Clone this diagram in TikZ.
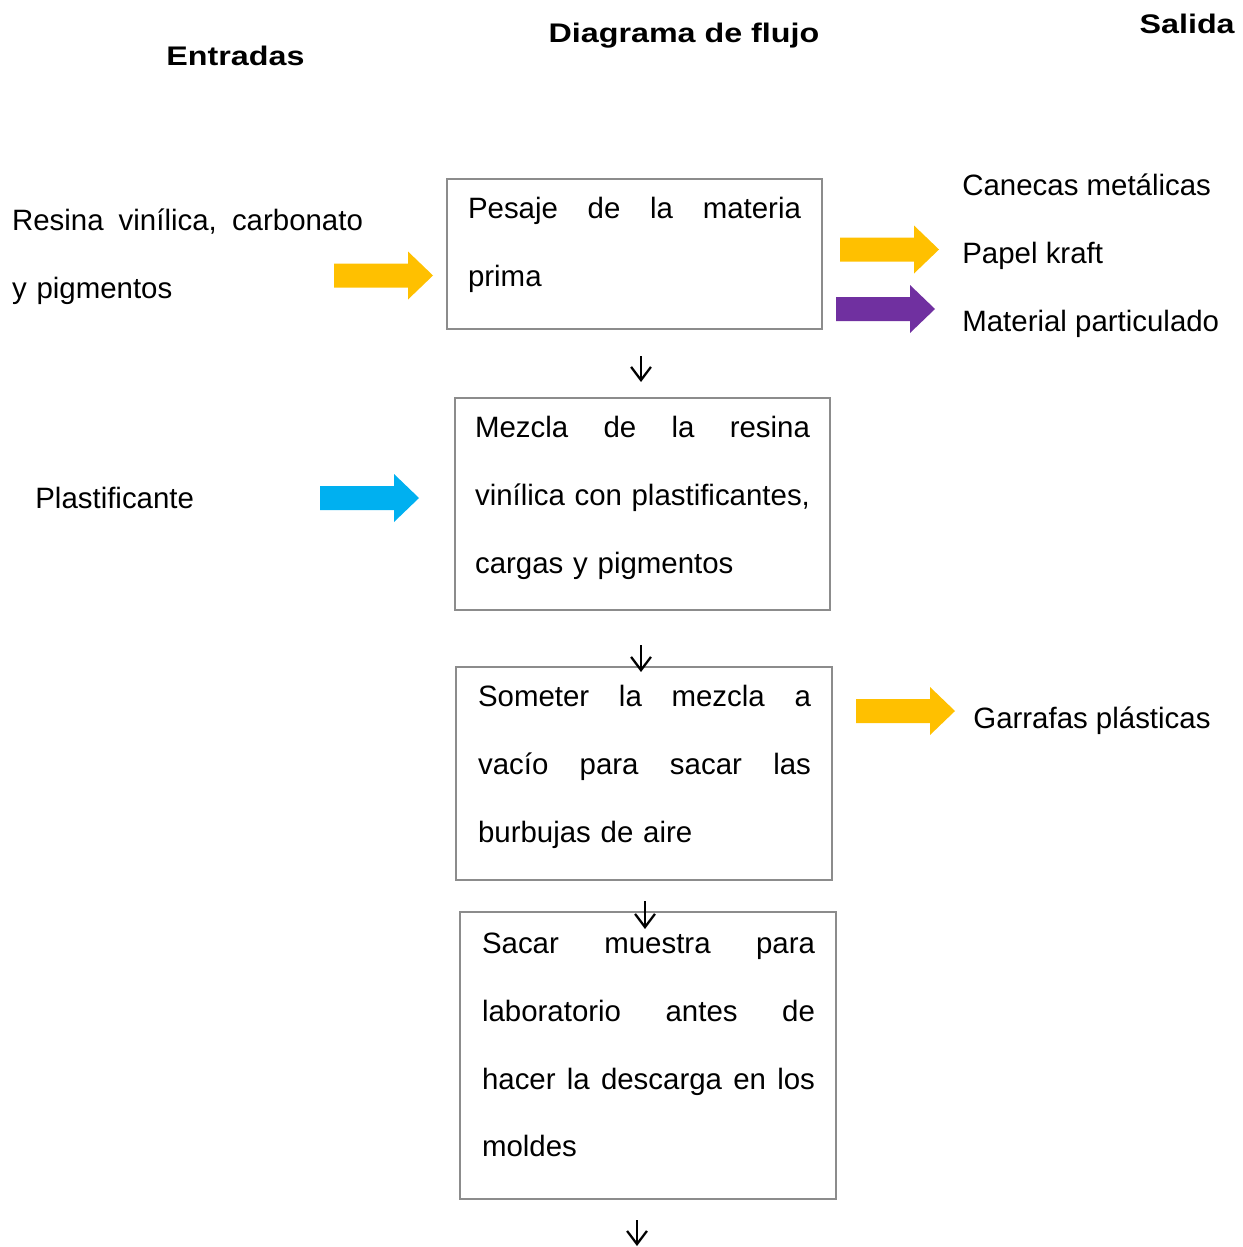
\documentclass[tikz,border=0pt]{standalone}
\usepackage{fontspec}
\usepackage{graphicx}
\setmainfont{Liberation Sans}
\usetikzlibrary{arrows.meta,calc}
\definecolor{amarillo}{HTML}{FFC000}
\definecolor{morado}{HTML}{7030A0}
\definecolor{celeste}{HTML}{00B0F0}
\definecolor{borde}{HTML}{8C8C8C}
\newcommand{\ancho}[1]{\scalebox{1.2}[1]{#1}}

\begin{document}
\begin{tikzpicture}[x = 0.02cm, y = -0.02cm,
    proceso/.style = {draw = borde, line width = 1.1pt, minimum width = 7.5cm, inner sep = 0pt},
    texto/.style = {inner sep = 0pt, font = \fontsize{16.75}{38.6}\selectfont},
    bloque/.style = {texto, text width = 6.66cm, align = left},
    titulo/.style = {inner sep = 0pt, font = \fontsize{15.3}{18}\selectfont\bfseries},
    flecha/.style = {line width = 1.3pt, -{Straight Barb[length = 7.5pt, width = 11.3pt]}},
    gruesa/.pic = {\fill (0,-12) -- (74,-12) -- (74,-24) -- (99,0) -- (74,24) -- (74,12) -- (0,12) -- cycle;}]
    \useasboundingbox (0,0) rectangle (1243,1247);

    % titulos
    \node[titulo] (entradas) at (235.5,56) {\ancho{Entradas}};
    \node[titulo] (diagrama) at (684,36) {\ancho{Diagrama de flujo}};
    \node[titulo, anchor = east] (salida) at (1235,24) {\ancho{Salida}};

    % cajas del proceso
    \node[proceso, minimum height = 3cm] (pesaje) at (634.5,254) {};
    \node[proceso, minimum height = 4.24cm] (mezcla) at (642.5,504) {};
    \node[proceso, minimum width = 7.52cm, minimum height = 4.26cm] (vacio) at (644,773.5) {};
    \node[proceso, minimum width = 7.52cm, minimum height = 5.74cm] (muestra) at (648,1055.5) {};

    \node[bloque] (pesajetxt) at (634.5,245) {Pesaje\hfill de\hfill la\hfill materia\\prima};
    \node[bloque, text width = 6.7cm] (mezclatxt) at (642.5,498) {Mezcla\hfill de\hfill la\hfill resina\\vinílica\hfill con\hfill plastificantes,\\cargas y pigmentos};
    \node[bloque] (vaciotxt) at (644.5,767) {Someter\hfill la\hfill mezcla\hfill a\\vacío\hfill para\hfill sacar\hfill las\\burbujas de aire};
    \node[bloque] (muestratxt) at (648.5,1045) {Sacar\hfill muestra\hfill para\\laboratorio\hfill antes\hfill de\\hacer\hfill la\hfill descarga\hfill en\hfill los\\moldes};

    % entradas y salidas
    \node[bloque, text width = 7.02cm] (resina) at (187.5,257) {Resina\hfill vinílica,\hfill carbonato\\y pigmentos};
    \node[texto, anchor = west] (plastif) at (35,498) {Plastificante};
    \node[texto, align = left, anchor = west] (salidas) at (962,256) {Canecas metálicas\\Papel kraft\\Material particulado};
    \node[texto, anchor = west] (garrafas) at (973,721) {Garrafas plásticas};

    \pic[fill = amarillo] at (334,275.5) {gruesa};
    \pic[fill = celeste] at (320,498) {gruesa};
    \pic[fill = amarillo] at (840,249.5) {gruesa};
    \pic[fill = morado] at (836,309) {gruesa};
    \pic[fill = amarillo] at (856,711) {gruesa};

    % flechas entre pasos
    \coordinate (a1) at (641,356);
    \coordinate (b1) at (641,382);
    \coordinate (a2) at (641,645);
    \coordinate (b2) at (641,672);
    \coordinate (a3) at (645,901);
    \coordinate (b3) at (645,929);
    \coordinate (a4) at (637,1220);
    \coordinate (b4) at (637,1246);
    \draw[flecha] (a1) -- (b1);
    \draw[flecha] (a2) -- (b2);
    \draw[flecha] (a3) -- (b3);
    \draw[flecha] (a4) -- (b4);
\end{tikzpicture}
\end{document}
